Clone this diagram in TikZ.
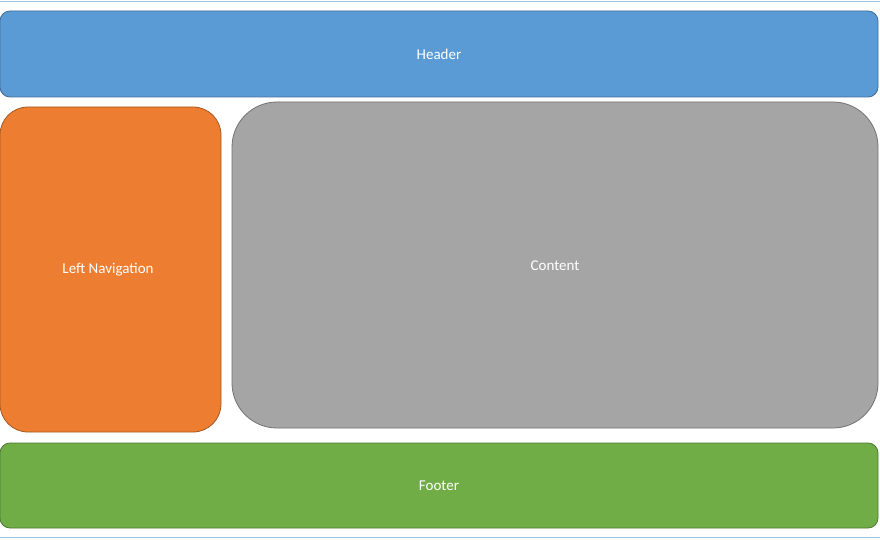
\documentclass[tikz,border=0pt]{standalone}
\usepackage{fontspec}
\setmainfont{Carlito}
\begin{document}
\begin{tikzpicture}[x=1pt,y=-1pt,
  box/.style={draw=#1!70!black, line width=0.8pt, text=white, font=\fontsize{15}{18}\selectfont},
]
\definecolor{hb}{HTML}{5B9BD5}
\definecolor{nb}{HTML}{ED7D31}
\definecolor{cb}{HTML}{A5A5A5}
\definecolor{fb}{HTML}{70AD47}
\useasboundingbox (0,0) rectangle (880,540);
\fill[white] (0,0) rectangle (880,540);
\draw[hb!60, line width=1pt] (0,1.5) -- (880,1.5);
\draw[hb!60, line width=1pt] (0,537.5) -- (880,537.5);
\filldraw[box=hb, fill=hb, rounded corners=10pt] (0,11) rectangle (878,97);
\node[text=white, font=\fontsize{15}{18}\selectfont] (header) at (439,54) {Header};
\filldraw[box=nb, fill=nb, rounded corners=28pt] (0,107) rectangle (221,432);
\node[text=white, font=\fontsize{15}{18}\selectfont] (nav) at (108,270) {Left Navigation};
\filldraw[box=cb, fill=cb, rounded corners=45pt] (232,102) rectangle (878,428);
\node[text=white, font=\fontsize{15}{18}\selectfont] (content) at (555,266) {Content};
\filldraw[box=fb, fill=fb, rounded corners=10pt] (0,443) rectangle (878,528);
\node[text=white, font=\fontsize{15}{18}\selectfont] (footer) at (439,486) {Footer};
\end{tikzpicture}
\end{document}
